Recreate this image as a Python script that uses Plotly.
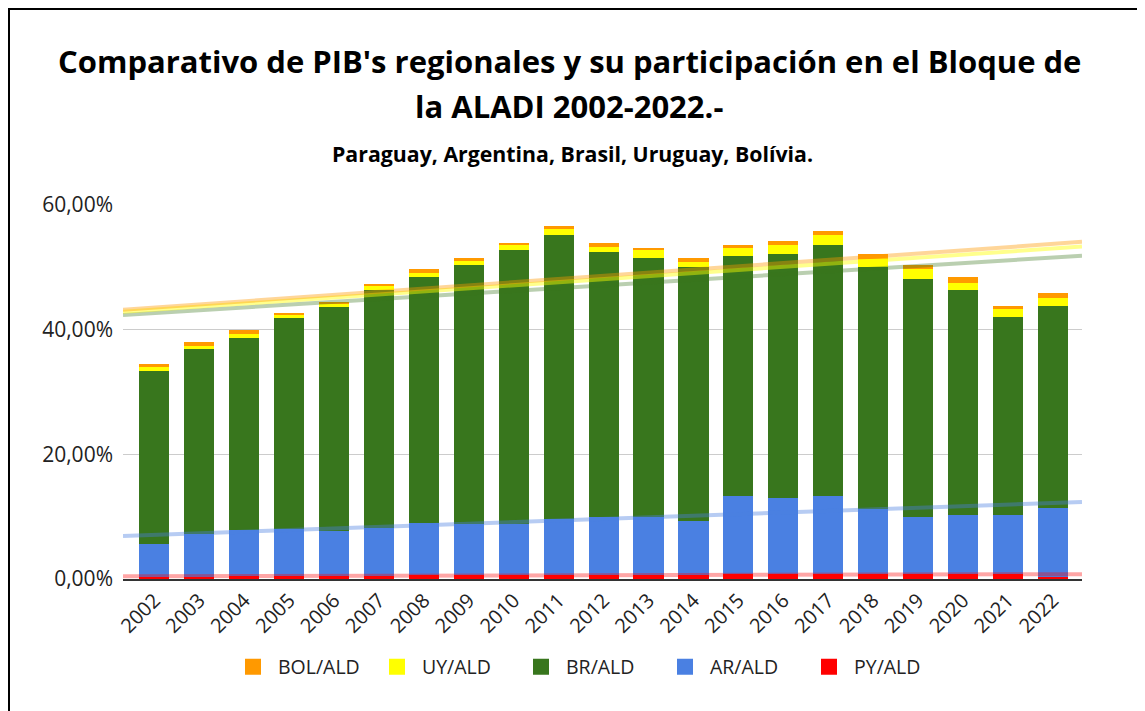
import numpy as np
import plotly.graph_objects as go

years = list(range(2002, 2023))
year_labels = [str(y) for y in years]

py_ald = [0.4, 0.4, 0.5, 0.45, 0.5, 0.55, 0.6, 0.6, 0.6, 0.6, 0.6, 0.6, 0.6, 0.75, 0.75, 0.75, 0.75, 0.8, 0.8, 0.8, 0.4]
ar_ald = [5.2, 6.8, 7.3, 7.5, 7.25, 7.6, 8.45, 8.15, 8.15, 9.0, 9.3, 9.35, 8.7, 12.55, 12.25, 12.55, 10.43, 9.15, 9.47, 9.47, 11.0]
br_ald = [27.8, 29.65, 30.85, 33.85, 35.85, 38.25, 39.45, 41.55, 44.0, 45.6, 42.57, 41.6, 40.7, 38.5, 39.14, 40.34, 38.82, 38.23, 36.1, 31.82, 32.41]
uy_ald = [0.67, 0.6, 0.65, 0.6, 0.6, 0.63, 0.65, 0.85, 0.9, 0.9, 0.85, 1.23, 0.86, 1.3, 1.5, 1.6, 1.29, 1.5, 1.17, 1.18, 1.28]
bol_ald = [0.37, 0.6, 0.6, 0.27, 0.3, 0.28, 0.55, 0.3, 0.3, 0.6, 0.65, 0.27, 0.64, 0.54, 0.59, 0.59, 0.85, 0.64, 0.86, 0.58, 0.87]

series_names = ["PY/ALD", "AR/ALD", "BR/ALD", "UY/ALD", "BOL/ALD"]
series_values = [py_ald, ar_ald, br_ald, uy_ald, bol_ald]
series_colors = ["#ff0000", "#4a80e2", "#38761d", "#ffff00", "#ff9900"]
trend_colors = ["rgba(255,0,0,0.35)", "rgba(74,128,226,0.4)", "rgba(56,118,29,0.35)",
                "rgba(255,255,0,0.45)", "rgba(255,153,0,0.4)"]

y_ticks = [0, 20, 40, 60]
y_tick_labels = ["0,00%", "20,00%", "40,00%", "60,00%"]

title_line1 = "Comparativo de PIB's regionales y su participación en el Bloque de"
title_line2 = "la ALADI 2002-2022.-"
subtitle = "Paraguay, Argentina, Brasil, Uruguay, Bolívia."

x_range = [2001.3, 2022.65]

FONT = "Open Sans"
OFF = 8  # page body margin of the browser
W, H = 1145, 711
L, R = 123 - OFF, W - (1082 - OFF)
T, B = 205 - OFF, H - (579 - OFF)
pw, ph = W - L - R, H - T - B


def px_x(x):
    return (x - OFF - L) / pw


def px_y(y):
    return (H - B - (y - OFF)) / ph


fig = go.Figure()
for name, vals, col in zip(series_names, series_values, series_colors):
    fig.add_trace(go.Bar(x=years, y=vals, name=name, marker_color=col,
                         marker_line_width=0, width=0.67, showlegend=False))

# linear trendlines on stacked (cumulative) values
cum = np.cumsum(np.array(series_values), axis=0)
xs = np.array(years, dtype=float)
xline = np.array(x_range)
for i in range(len(series_names)):
    k, b = np.polyfit(xs, cum[i], 1)
    fig.add_trace(go.Scatter(x=xline, y=k * xline + b, mode="lines",
                             line=dict(color=trend_colors[i], width=4),
                             showlegend=False, hoverinfo="skip"))

# legend entries (larger square symbols)
for name, col in zip(series_names, series_colors):
    fig.add_trace(go.Scatter(x=[None], y=[None], mode="markers", name=name,
                             marker=dict(symbol="square", size=16, color=col,
                                         line=dict(width=0))))

fig.update_layout(
    barmode="stack",
    width=W, height=H,
    margin=dict(l=L, r=R, t=T, b=B),
    paper_bgcolor="white", plot_bgcolor="white",
    font=dict(family=FONT, color="#222222"),
    legend=dict(orientation="h", x=px_x(228), xanchor="left", y=px_y(667), yanchor="middle",
                traceorder="reversed", font=dict(size=19.5, color="#222222"),
                itemwidth=40, entrywidth=89, itemsizing="trace"),
    showlegend=True,
    annotations=[
        dict(text="<b>" + title_line1 + "</b>", x=px_x(569), xref="paper", xanchor="center",
             y=px_y(61), yref="paper", yanchor="middle", showarrow=False,
             font=dict(family=FONT, size=31, color="black")),
        dict(text="<b>" + title_line2 + "</b>", x=px_x(569), xref="paper", xanchor="center",
             y=px_y(106), yref="paper", yanchor="middle", showarrow=False,
             font=dict(family=FONT, size=31, color="black")),
        dict(text="<b>" + subtitle + "</b>", x=px_x(572), xref="paper", xanchor="center",
             y=px_y(153), yref="paper", yanchor="middle", showarrow=False,
             font=dict(family=FONT, size=21.3, color="black")),
    ],
)

fig.update_xaxes(range=x_range, tickmode="array", tickvals=years, ticktext=year_labels,
                 tickangle=-45, tickfont=dict(size=20, color="#222222"), showgrid=False,
                 showline=True, linecolor="#333333", linewidth=1.5, ticks="")
fig.update_yaxes(range=[0, 60], tickmode="array", tickvals=y_ticks, ticktext=y_tick_labels,
                 tickfont=dict(size=21, color="#222222"), gridcolor="#cccccc", gridwidth=1.2,
                 zeroline=False, showline=False, ticks="", ticklabelstandoff=9)

fig.add_shape(type="rect", xref="paper", yref="paper",
              x0=px_x(OFF + 1), x1=px_x(1141), y0=px_y(730), y1=px_y(OFF + 1),
              line=dict(color="black", width=2), fillcolor="rgba(0,0,0,0)", layer="above")

fig.write_html("out.html")
